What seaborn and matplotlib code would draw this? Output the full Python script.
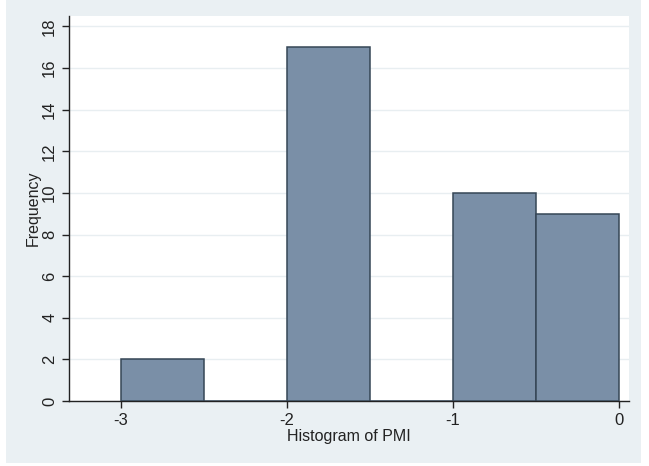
import numpy as np
import pandas as pd
import matplotlib
matplotlib.use("Agg")
import matplotlib.pyplot as plt
import seaborn as sns
from matplotlib.patches import Rectangle

# Histogram bins
bin_edges = [-3.0, -2.5, -2.0, -1.5, -1.0, -0.5, 0.0]
counts = [2, 0, 17, 0, 10, 9]
x_ticks = [-3, -2, -1, 0]
y_ticks = [0, 2, 4, 6, 8, 10, 12, 14, 16, 18]

sns.set_theme(style="white")
plt.rcParams["font.family"] = ["Liberation Sans", "DejaVu Sans"]

centers = [(a + b) / 2 for a, b in zip(bin_edges[:-1], bin_edges[1:])]
df = pd.DataFrame({"PMI": centers, "n": counts})

fig = plt.figure(figsize=(6.49, 4.66), dpi=100, facecolor="white")
# Stata-like light background panel
fig.patches.append(Rectangle((6 / 649, 3 / 466), 635 / 649, 463 / 466,
                             transform=fig.transFigure, facecolor="#eaf0f3",
                             edgecolor="none", zorder=-10))
ax = fig.add_axes([69 / 649, 65 / 466, 560 / 649, 385 / 466])
ax.set_zorder(1)
ax.set_facecolor("white")

sns.histplot(data=df, x="PMI", weights="n", bins=bin_edges, ax=ax,
             color="#7a8fa7", alpha=1, edgecolor="#364656", linewidth=1.1,
             zorder=3)

ax.set_xlim(-3.313, 0.06)
ax.set_ylim(0, 18.5)
ax.set_xticks(x_ticks)
ax.set_xticklabels([str(t) for t in x_ticks])
ax.set_yticks(y_ticks)
ax.set_yticklabels([str(t) for t in y_ticks], rotation=90, va="center")
ax.yaxis.grid(True, color="#e8eef1", linewidth=1, zorder=0)
ax.set_axisbelow(True)

for side in ["top", "right"]:
    ax.spines[side].set_visible(False)
for side in ["left", "bottom"]:
    ax.spines[side].set_color("#222222")
    ax.spines[side].set_linewidth(1)

ax.tick_params(axis="both", direction="out", length=5, width=1, color="#222222",
               labelsize=12, labelcolor="#222222", bottom=True, left=True)
ax.set_xlabel("Histogram of PMI", fontsize=11.5, color="#222222", labelpad=1)
ax.set_ylabel("Frequency", fontsize=11.5, color="#222222", labelpad=1)

fig.savefig("out.png", dpi=100, facecolor="white")
